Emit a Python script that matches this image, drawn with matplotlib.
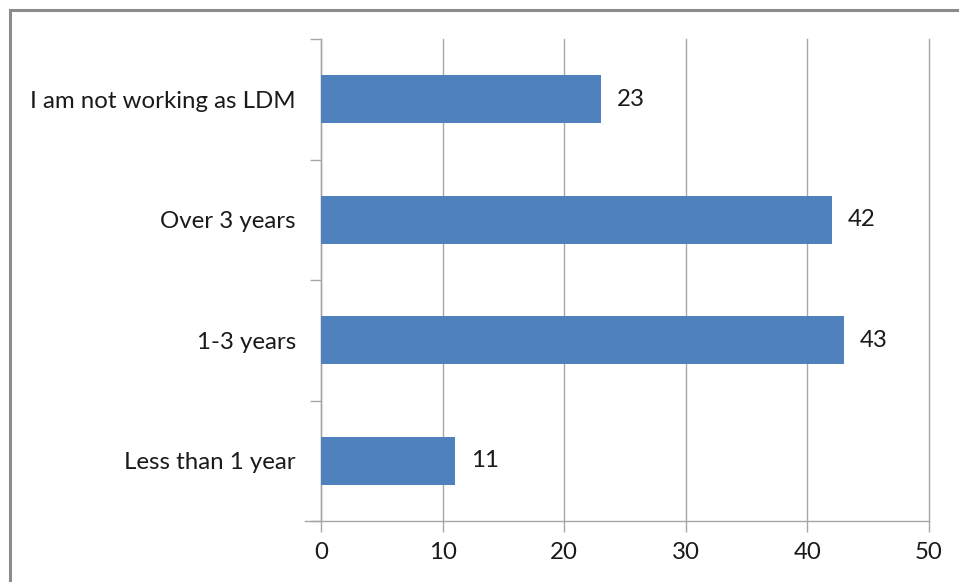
import matplotlib
matplotlib.use("Agg")
import matplotlib.pyplot as plt
from matplotlib.patches import Rectangle
from matplotlib.ticker import FixedLocator, NullFormatter

categories = ["Less than 1 year", "1-3 years", "Over 3 years", "I am not working as LDM"]
values = [11, 43, 42, 23]
x_ticks = [0, 10, 20, 30, 40, 50]

bar_color = "#4F81BD"
grid_color = "#A6A6A6"
text_color = "#1A1A1A"
fs = 17.3

plt.rcParams["font.family"] = ["Lato", "DejaVu Sans"]

fig = plt.figure(figsize=(9.59, 5.82), dpi=100)
fig.patch.set_facecolor("white")

# outer chart frame
fig.patches.append(Rectangle((10 / 959, -0.05), 1.2, 1 - 10 / 582 + 0.05,
                             transform=fig.transFigure, fill=False,
                             edgecolor="#8C8C8C", linewidth=2.2))

ax = fig.add_axes([321 / 959, 61 / 582, 608 / 959, 482 / 582])
ypos = list(range(len(categories)))
ax.barh(ypos, values, height=0.4, color=bar_color, zorder=3)

for y, v in zip(ypos, values):
    ax.text(v + 1.3, y, str(v), va="center", ha="left", fontsize=fs, color=text_color)

ax.set_xlim(0, 50)
ax.set_ylim(-0.5, len(categories) - 0.5)
ax.set_xticks(x_ticks)
ax.set_xticklabels([str(t) for t in x_ticks], fontsize=fs, color=text_color)

# category labels centred on bars, tick marks on category boundaries
ax.yaxis.set_major_locator(FixedLocator([i - 0.5 for i in range(len(categories) + 1)]))
ax.yaxis.set_major_formatter(NullFormatter())
ax.yaxis.set_minor_locator(FixedLocator(ypos))
ax.set_yticklabels(categories, minor=True, fontsize=fs, color=text_color)
ax.tick_params(axis="y", which="major", length=8, width=1, color=grid_color, direction="out")
ax.tick_params(axis="y", which="minor", length=0, pad=18)
ax.tick_params(axis="x", length=8, width=1, color=grid_color, direction="out", pad=7)

ax.grid(axis="x", color=grid_color, linewidth=1, zorder=0)
for gl in ax.get_xgridlines():
    gl.set_clip_on(False)
for side in ("top", "right"):
    ax.spines[side].set_visible(False)
for side in ("left", "bottom"):
    ax.spines[side].set_color(grid_color)
    ax.spines[side].set_linewidth(1)
ax.spines["bottom"].set_bounds(-1.3, 50)
ax.spines["bottom"].set_zorder(4)
ax.set_axisbelow(True)

fig.savefig("out.png", dpi=100, facecolor="white")
